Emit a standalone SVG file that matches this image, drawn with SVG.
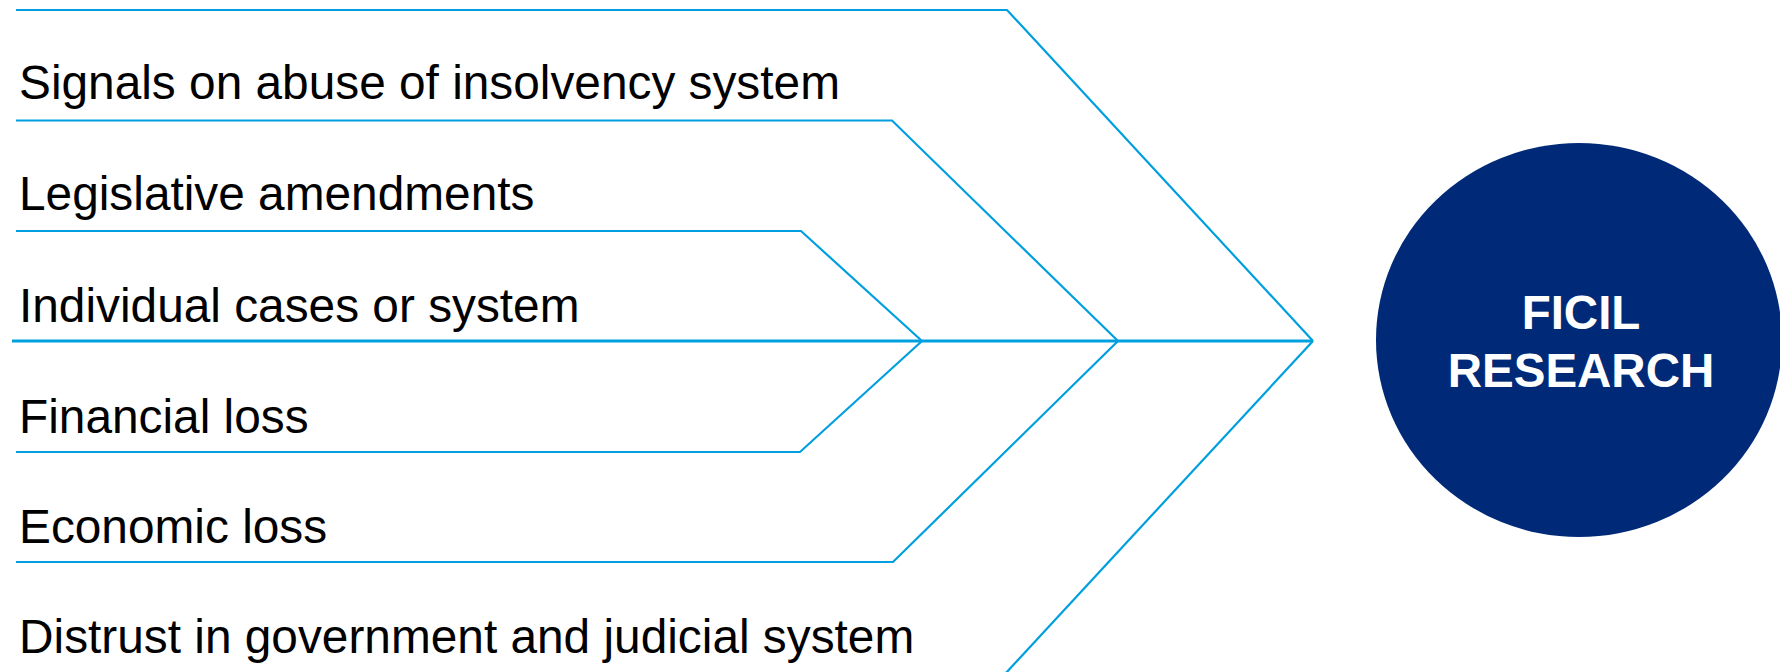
<svg xmlns="http://www.w3.org/2000/svg" width="1780" height="672" viewBox="0 0 1780 672">
  <style>
    .lbl { font-family: "Liberation Sans", Arial, sans-serif; font-size: 47.8px; fill: #000000; }
    .bone { fill: none; stroke: #009fdf; stroke-width: 2.2; stroke-linejoin: miter; }
    .spine { fill: none; stroke: #009fdf; stroke-width: 3; }
    .ctext { font-family: "Liberation Sans", Arial, sans-serif; font-size: 47.5px; font-weight: bold; fill: #ffffff; text-anchor: middle; }
  </style>
  <rect width="1780" height="672" fill="#ffffff"/>
  <g id="connectors">
    <path class="bone" d="M16,10 H1007 L1313,341"/>
    <path class="bone" d="M16,120.5 H892 L1118,341"/>
    <path class="bone" d="M16,231 H801 L922,341"/>
    <path class="spine" d="M12,341 H1313"/>
    <path class="bone" d="M16,452 H800 L922,341"/>
    <path class="bone" d="M16,562 H893 L1118,341"/>
    <path class="bone" d="M1313,341 L1005,674"/>
  </g>
  <g id="label-signals"><text class="lbl" x="19" y="98.5">Signals on abuse of insolvency system</text></g>
  <g id="label-legislative"><text class="lbl" x="19" y="209.5">Legislative amendments</text></g>
  <g id="label-individual"><text class="lbl" x="19" y="321.5">Individual cases or system</text></g>
  <g id="label-financial"><text class="lbl" x="19" y="432.5">Financial loss</text></g>
  <g id="label-economic"><text class="lbl" x="19" y="542.5">Economic loss</text></g>
  <g id="label-distrust"><text class="lbl" x="19" y="652.5">Distrust in government and judicial system</text></g>
  <g id="ficil-research">
    <ellipse cx="1579" cy="340" rx="203" ry="197" fill="#002a78"/>
    <text class="ctext" x="1581" y="329">FICIL</text>
    <text class="ctext" x="1581" y="387">RESEARCH</text>
  </g>
</svg>
